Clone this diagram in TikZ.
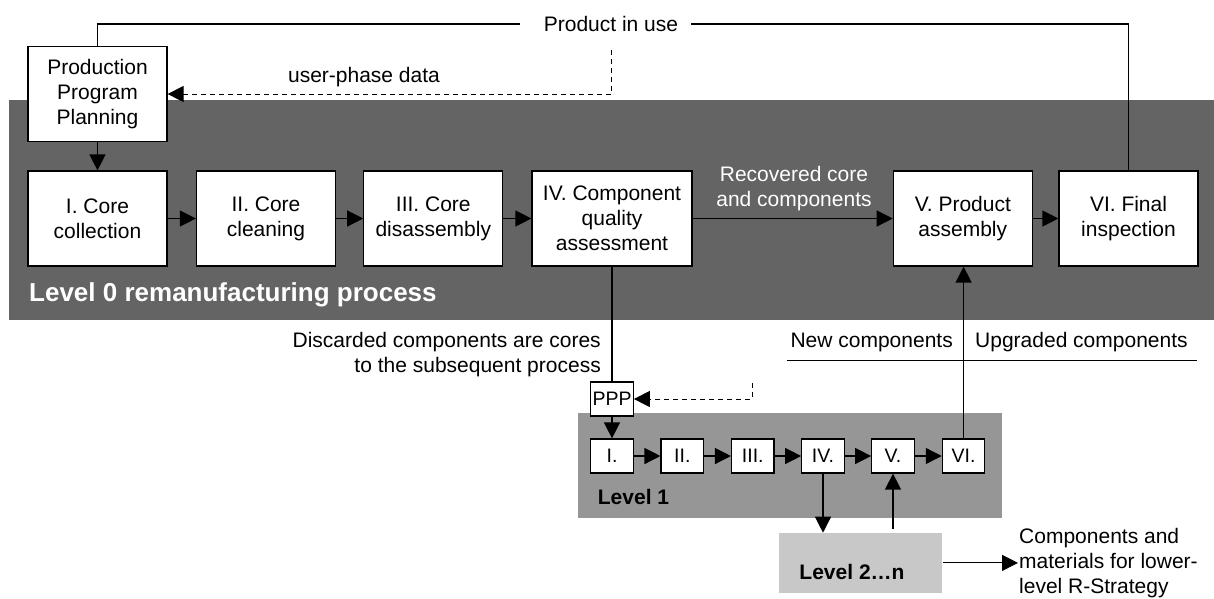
\documentclass[tikz,border=0pt]{standalone}
\usepackage{fontspec}
\setmainfont{Liberation Sans}
\usepackage{xcolor}
\usetikzlibrary{arrows.meta, positioning, calc}
\definecolor{levelzero}{RGB}{100, 100, 100}
\definecolor{levelone}{RGB}{150, 150, 150}
\definecolor{leveltwo}{RGB}{200, 200, 200}
\newcommand{\bigtext}{\fontsize{21}{25}\selectfont}
\newcommand{\smalltext}{\fontsize{19.5}{22}\selectfont}

\begin{document}
\begin{tikzpicture}[x=1pt, y=-1pt,
  stage/.style={rectangle, draw=black, fill=white, line width=1.2pt,
                minimum width=139pt, minimum height=95pt,
                align=center, font=\bigtext, inner sep=2pt},
  substage/.style={rectangle, draw=black, fill=white, line width=1.2pt,
                   minimum width=42.5pt, minimum height=34pt,
                   inner sep=0pt, font=\smalltext},
  band/.style={rectangle, inner sep=0pt},
  flow/.style={-{Triangle[length=16pt, width=16pt]}, line width=1.3pt},
  feedback/.style={flow, dash pattern=on 5pt off 4pt, line width=1pt},
  note/.style={font=\bigtext, inner sep=2pt},
  levellabel/.style={font=\bigtext\bfseries, inner sep=0pt}
]
  \useasboundingbox (0,0) rectangle (1214,598);

  % ── Background bands ───────────────────────────────────────────────────────
  \node[band, fill=levelzero, minimum width=1205pt, minimum height=220pt]
    (bandzero) at (611.5,210) {};
  \node[band, fill=levelone, minimum width=424pt, minimum height=105pt]
    (bandone) at (790,465.5) {};
  \node[band, fill=leveltwo, minimum width=163pt, minimum height=60pt]
    (bandtwo) at (860.8,562.9) {};

  % ── Level 0 stages ─────────────────────────────────────────────────────────
  \node[stage] (ppp) at (97.5, 94)   {Production\\Program\\Planning};
  \node[stage] (c1)  at (97.5, 218.5) {I. Core\\collection};
  \node[stage] (c2)  at (266,  218.5) {II. Core\\cleaning};
  \node[stage] (c3)  at (433.3,218.5) {III. Core\\disassembly};
  \node[stage, minimum width=160pt] (c4) at (612,218.5)
    {IV. Component\\quality\\assessment};
  \node[stage] (c5)  at (962.8,218.5) {V. Product\\assembly};
  \node[stage] (c6)  at (1128.5,218.5) {VI. Final\\inspection};

  \node[levellabel, font=\fontsize{26}{30}\selectfont\bfseries, text=white,
        anchor=west] (lvzero) at (29,295) {Level 0 remanufacturing process};

  % ── Level 1 stages ─────────────────────────────────────────────────────────
  \node[substage] (pp) at (612,399) {PPP};
  \node[substage] (s1) at (612,  456) {I.};
  \node[substage] (s2) at (682.3,456) {II.};
  \node[substage] (s3) at (752.8,456) {III.};
  \node[substage] (s4) at (823,  456) {IV.};
  \node[substage] (s5) at (893,  456) {V.};
  \node[substage] (s6) at (963.6,456) {VI.};

  \node[levellabel, anchor=west] (lvone) at (597.7,497) {Level 1};
  \node[levellabel] (lvtwo) at (852,572) {Level 2…n};

  % ── Product in use loop ────────────────────────────────────────────────────
  \node[note, inner xsep=13pt] (use) at (611,24) {Product in use};
  \draw[line width=1.2pt] (ppp.north) |- ([xshift=-11pt]use.west);
  \draw[line width=1.2pt] (c6.north) |- (use.east);

  \coordinate (usedata) at (611.7,50);
  \draw[feedback] (usedata) |- (ppp.east);
  \node[note] (data) at (364,77) {user-phase data};

  \coordinate (subdata) at (752,383);
  \draw[feedback] (subdata) |- (pp.east);

  % ── Connections: level 0 ───────────────────────────────────────────────────
  \draw[flow] (ppp) -- (c1);
  \draw[flow] (c1) -- (c2);
  \draw[flow] (c2) -- (c3);
  \draw[flow] (c3) -- (c4);
  \draw[flow] (c4) -- (c5);
  \draw[flow] (c5) -- (c6);
  \node[note, text=white, align=center] (recovered) at (794,188.5)
    {Recovered core\\and components};

  % ── Connections: level 1 and below ─────────────────────────────────────────
  \draw[line width=1.3pt] (c4.south) -- (pp.north);
  \node[note, align=right, anchor=east] (discard) at (603,355)
    {Discarded components are cores\\to the subsequent process};
  \draw[flow] (pp) -- (s1);
  \draw[flow] (s1) -- (s2);
  \draw[flow] (s2) -- (s3);
  \draw[flow] (s3) -- (s4);
  \draw[flow] (s4) -- (s5);
  \draw[flow] (s5) -- (s6);
  \draw[flow] (s6.north) -- (s6.north |- c5.south);
  \draw[flow] (s4.south) -- (s4.south |- bandtwo.north);
  \draw[flow] ([yshift=4pt]s5.south |- bandtwo.north) -- (s5.south);

  \node[note, anchor=east] (newcomp) at (955,342) {New components};
  \node[note, anchor=west] (upcomp) at (973,342) {Upgraded components};
  \draw[line width=1pt] (786.7,360) -- (1196.7,360);

  \coordinate (lower) at (1018,562.9);
  \draw[flow, line width=1pt] (bandtwo.east) -- (lower);
  \node[note, align=left, anchor=west, inner sep=1pt] (strategy) at (lower)
    {Components and\\materials for lower-\\level R-Strategy};
\end{tikzpicture}
\end{document}
